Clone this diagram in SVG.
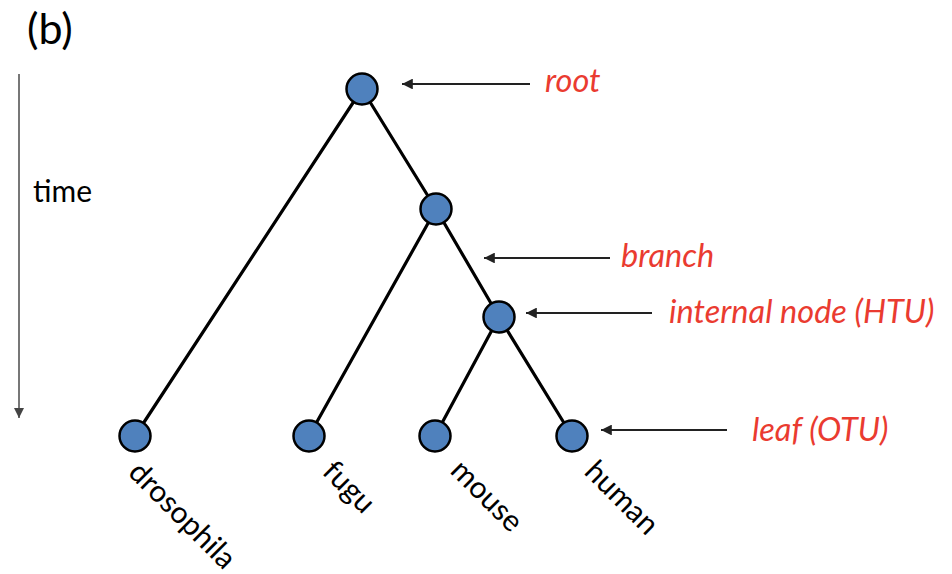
<svg xmlns="http://www.w3.org/2000/svg" width="952" height="574" viewBox="0 0 952 574">
<defs>
<style>
.edge{stroke:#000;stroke-width:3.2;fill:none;stroke-linecap:round}
.node{fill:#4f81bd;stroke:#000;stroke-width:2.5}
.lbl{font-family:Lato,"Open Sans",sans-serif;font-size:30px;fill:#000}
.red{font-family:Lato,"Open Sans",sans-serif;font-size:32.5px;font-style:italic;fill:#ea3b30}
.ptr{stroke:#222;stroke-width:1.8;fill:none}
</style>
<marker id="ah" viewBox="0 0 10 10" refX="10" refY="5" markerWidth="6" markerHeight="6" markerUnits="strokeWidth" orient="auto">
<path d="M0,0 L10,5 L0,10 z" fill="#222"/>
</marker>
<marker id="ahg" viewBox="0 0 10 10" refX="10" refY="5" markerWidth="5" markerHeight="5" markerUnits="strokeWidth" orient="auto">
<path d="M0,0 L10,5 L0,10 z" fill="#444"/>
</marker>
</defs>
<rect width="952" height="574" fill="#fff"/>
<text x="27" y="44" font-family="Lato,'Open Sans',sans-serif" font-size="43" fill="#000">(b)</text>
<g id="timeaxis">
<line x1="19" y1="74" x2="19" y2="418" stroke="#777" stroke-width="2" marker-end="url(#ahg)"/>
<text class="lbl" x="33" y="202">time</text>
</g>
<g id="connectors">
<line class="edge" x1="362" y1="89" x2="436" y2="209"/>
<line class="edge" x1="362" y1="89" x2="135" y2="436"/>
<line class="edge" x1="436" y1="209" x2="309" y2="436"/>
<line class="edge" x1="436" y1="209" x2="499" y2="317"/>
<line class="edge" x1="499" y1="317" x2="435" y2="436"/>
<line class="edge" x1="499" y1="317" x2="572" y2="436"/>
<line class="ptr" x1="530" y1="84" x2="402" y2="84" marker-end="url(#ah)"/>
<line class="ptr" x1="610" y1="258" x2="484" y2="258" marker-end="url(#ah)"/>
<line class="ptr" x1="652" y1="313" x2="526" y2="313" marker-end="url(#ah)"/>
<line class="ptr" x1="727" y1="430" x2="601" y2="430" marker-end="url(#ah)"/>
</g>
<g id="root"><circle class="node" cx="362" cy="89" r="15.5"/></g>
<g id="n2"><circle class="node" cx="436" cy="209" r="15.5"/></g>
<g id="n3"><circle class="node" cx="499" cy="317" r="15.5"/></g>
<g id="drosophila"><circle class="node" cx="135" cy="436" r="15.5"/><text class="lbl" transform="translate(127,474) rotate(45)">drosophila</text></g>
<g id="fugu"><circle class="node" cx="309" cy="436" r="15.5"/><text class="lbl" transform="translate(321,473) rotate(45)">fugu</text></g>
<g id="mouse"><circle class="node" cx="435" cy="436" r="15.5"/><text class="lbl" transform="translate(449,472) rotate(45)">mouse</text></g>
<g id="human"><circle class="node" cx="572" cy="436" r="15.5"/><text class="lbl" transform="translate(583,473) rotate(45)">human</text></g>
<g id="annotations">
<text class="red" x="545" y="92">root</text>
<text class="red" x="621" y="267">branch</text>
<text class="red" x="669" y="323">internal node (HTU)</text>
<text class="red" x="752" y="441">leaf (OTU)</text>
</g>
</svg>
